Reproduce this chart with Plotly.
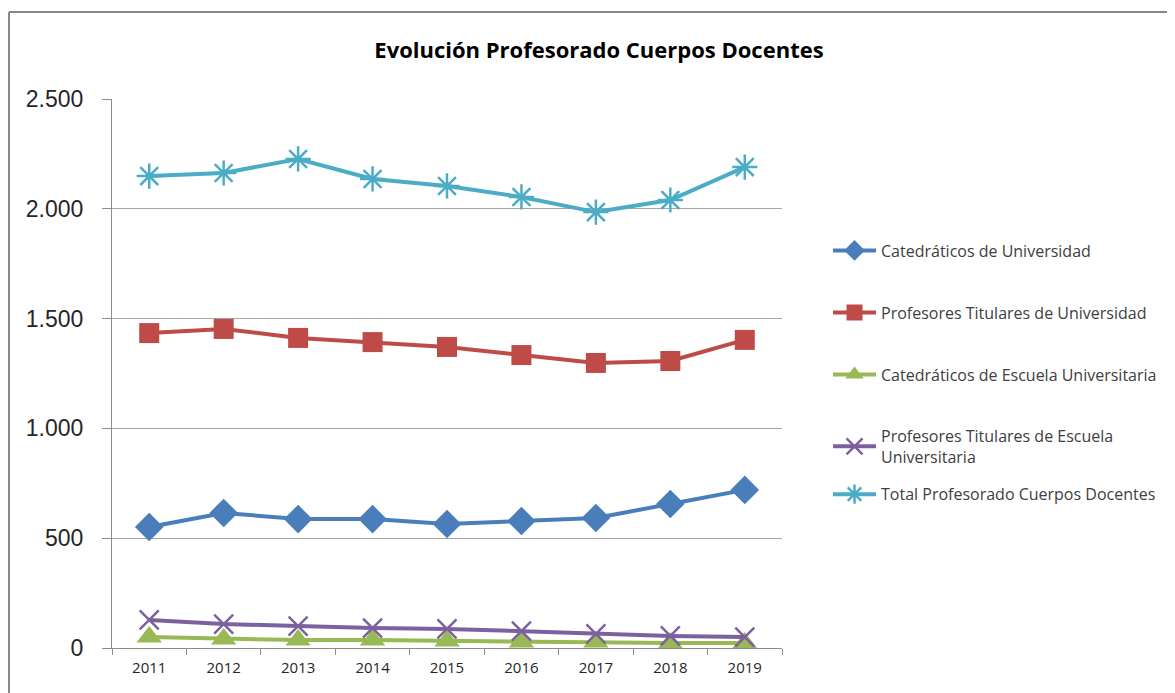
import plotly.graph_objs as go

anos = ['2011', '2012', '2013', '2014', '2015', '2016', '2017', '2018', '2019']

cat_univ = [551, 615, 587, 587, 565, 578, 592, 656, 720]
tit_univ = [1434, 1453, 1412, 1393, 1371, 1334, 1298, 1307, 1403]
cat_escuela = [50, 41, 36, 36, 32, 27, 27, 23, 23]
tit_escuela = [128, 109, 100, 91, 87, 77, 64, 55, 50]
total = [2149, 2163, 2227, 2136, 2104, 2054, 1985, 2040, 2190]

# nombre, valores, color, simbolo, tamaño, grosor borde, posicion leyenda (y paper)
series = [
    ('Catedráticos de Universidad', cat_univ, '#4a7ebb', 'diamond', 22, 0, 0.724),
    ('Profesores Titulares de Universidad', tit_univ, '#be4b48', 'square', 20, 0, 0.611),
    ('Catedráticos de Escuela Universitaria', cat_escuela, '#98b954', 'triangle-up', 22, 0, 0.498),
    ('Profesores Titulares de Escuela<br>Universitaria', tit_escuela, '#7d60a0', 'x-thin-open', 19, 2.5, 0.367),
    ('Total Profesorado Cuerpos Docentes', total, '#4bacc6', 'asterisk-open', 21, 2.5, 0.280),
]

fig = go.Figure()
leyendas = {}
for i, (nombre, vals, color, simbolo, tam, lw, ly) in enumerate(series):
    ref = 'legend' if i == 0 else 'legend%d' % (i + 1)
    fig.add_trace(go.Scatter(
        x=anos, y=vals, name=nombre, mode='lines+markers',
        legend=ref,
        line=dict(color=color, width=4),
        marker=dict(symbol=simbolo, size=tam, color=color,
                    line=dict(color=color, width=lw)),
        cliponaxis=False))
    leyendas[ref] = dict(x=1.0687, xanchor='left', y=ly, yanchor='middle',
                         font=dict(family='Open Sans', size=16, color='#404040'),
                         itemwidth=43, bgcolor='rgba(0,0,0,0)')

fig.update_layout(
    width=1167, height=685,
    margin=dict(l=104, r=393, t=91, b=45),
    paper_bgcolor='white', plot_bgcolor='white',
    separators=',.',
    font=dict(family='Liberation Sans', color='#262626'),
    title=dict(text='<b>Evolución Profesorado Cuerpos Docentes</b>',
               x=0.5064, xanchor='center', y=0.9387, yanchor='middle',
               font=dict(family='Open Sans', size=22, color='#000000')),
    showlegend=True,
    xaxis=dict(type='category', range=[-0.5, 8.5],
               showgrid=False, showline=True,
               linecolor='#8c8c8c', linewidth=1, ticks='outside',
               tickson='boundaries', ticklen=6, tickcolor='#8c8c8c',
               ticklabelstandoff=6,
               tickfont=dict(family='Open Sans', size=15, color='#262626'),
               zeroline=False),
    yaxis=dict(range=[0, 2500], dtick=500, tickformat=',d',
               showgrid=True, gridcolor='#a6a6a6', gridwidth=1,
               showline=True, linecolor='#8c8c8c', linewidth=1,
               ticks='outside', ticklen=9, tickcolor='#8c8c8c',
               ticklabelstandoff=14,
               tickfont=dict(family='Liberation Sans', size=23, color='#262626'),
               zeroline=False),
    **leyendas
)

# marco del grafico
fig.add_shape(type='line', xref='paper', yref='paper',
              x0=-0.1537, x1=2, y0=1.1585, y1=1.1585,
              line=dict(color='#888888', width=2))
fig.add_shape(type='line', xref='paper', yref='paper',
              x0=-0.1537, x1=-0.1537, y0=-1, y1=1.1585,
              line=dict(color='#888888', width=2))

fig.write_html("out.html")
